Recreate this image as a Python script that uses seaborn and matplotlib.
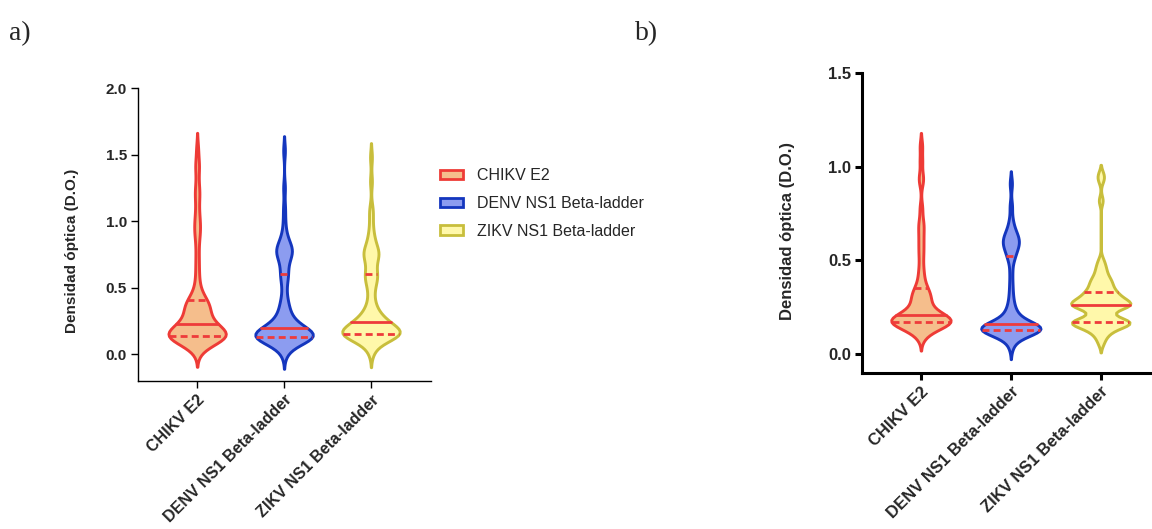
import numpy as np
import pandas as pd
import matplotlib
matplotlib.use('Agg')
import matplotlib.pyplot as plt
import seaborn as sns
from matplotlib.patches import Patch

# categories and colours
groups = ['CHIKV E2', 'DENV NS1 Beta-ladder', 'ZIKV NS1 Beta-ladder']
fill_colors = ['#F5BE8C', '#8C9CF0', '#FFF8AA']
edge_colors = ['#EE3B36', '#1436BE', '#C8BE3C']
quart_color = '#EE3B3B'

# panel a) optical density readings
chikv_a = [0.03, 0.05, 0.07, 0.08, 0.09, 0.10, 0.10, 0.11, 0.11, 0.12, 0.12, 0.12, 0.13, 0.13,
           0.13, 0.13, 0.135, 0.14, 0.14, 0.14,
           0.14, 0.145, 0.15, 0.15, 0.15, 0.155, 0.16, 0.16, 0.165, 0.17, 0.17, 0.18, 0.18, 0.19,
           0.19, 0.20, 0.21, 0.21, 0.22, 0.23,
           0.23, 0.24, 0.25, 0.26, 0.27, 0.28, 0.29, 0.30, 0.31, 0.32, 0.33, 0.34, 0.35, 0.36,
           0.37, 0.38, 0.39, 0.39, 0.40, 0.40,
           0.42, 0.45, 0.48, 0.52, 0.58, 0.65, 0.72, 0.80, 0.88, 0.92, 0.96, 1.00, 1.05, 1.12,
           1.20, 1.22, 1.30, 1.40, 1.43, 1.54]
denv_a = [0.00, 0.03, 0.05, 0.07, 0.08, 0.09, 0.10, 0.10, 0.11, 0.11, 0.11, 0.12, 0.12, 0.12,
          0.12, 0.125, 0.125, 0.13, 0.13, 0.13,
          0.13, 0.135, 0.14, 0.14, 0.145, 0.15, 0.15, 0.155, 0.16, 0.16, 0.165, 0.17, 0.17,
          0.175, 0.18, 0.18, 0.185, 0.19, 0.195, 0.20,
          0.20, 0.21, 0.22, 0.23, 0.24, 0.25, 0.26, 0.27, 0.28, 0.30, 0.32, 0.34, 0.36, 0.38,
          0.41, 0.45, 0.50, 0.55, 0.58, 0.60,
          0.62, 0.66, 0.69, 0.71, 0.73, 0.75, 0.76, 0.77, 0.78, 0.79, 0.80, 0.81, 0.83, 0.85,
          0.88, 0.92, 1.00, 1.10, 1.25, 1.53]
zikv_a = [0.01, 0.04, 0.07, 0.09, 0.10, 0.11, 0.12, 0.12, 0.13, 0.13, 0.14, 0.14, 0.14, 0.145,
          0.15, 0.15, 0.15, 0.15, 0.155, 0.155,
          0.155, 0.16, 0.16, 0.165, 0.17, 0.17, 0.175, 0.18, 0.18, 0.19, 0.19, 0.20, 0.20, 0.21,
          0.21, 0.22, 0.22, 0.23, 0.235, 0.24,
          0.24, 0.25, 0.26, 0.27, 0.28, 0.29, 0.30, 0.31, 0.33, 0.35, 0.37, 0.40, 0.44, 0.48,
          0.51, 0.54, 0.56, 0.58, 0.59, 0.60,
          0.62, 0.65, 0.68, 0.70, 0.72, 0.74, 0.75, 0.76, 0.77, 0.78, 0.80, 0.82, 0.85, 0.88,
          0.92, 0.98, 1.05, 1.10, 1.30, 1.48]

# panel b) optical density readings
chikv_b = [0.09, 0.11, 0.12, 0.13, 0.14, 0.145, 0.15, 0.155, 0.16, 0.16, 0.165, 0.165, 0.17, 0.17, 0.17,
           0.17, 0.172, 0.175, 0.178, 0.18, 0.182, 0.185, 0.19, 0.19, 0.195, 0.20, 0.20, 0.205, 0.21, 0.21,
           0.21, 0.22, 0.23, 0.24, 0.25, 0.26, 0.27, 0.28, 0.29, 0.30, 0.31, 0.32, 0.33, 0.34, 0.35,
           0.37, 0.40, 0.43, 0.47, 0.52, 0.56, 0.60, 0.64, 0.68, 0.71, 0.78, 0.92, 0.95, 1.03, 1.11]
denv_b = [0.04, 0.07, 0.09, 0.10, 0.11, 0.11, 0.115, 0.12, 0.12, 0.12, 0.125, 0.125, 0.13, 0.13, 0.13,
          0.13, 0.132, 0.135, 0.138, 0.14, 0.14, 0.142, 0.145, 0.148, 0.15, 0.15, 0.152, 0.155, 0.158, 0.16,
          0.16, 0.17, 0.18, 0.19, 0.20, 0.21, 0.22, 0.24, 0.26, 0.29, 0.33, 0.38, 0.44, 0.50, 0.52,
          0.54, 0.56, 0.57, 0.58, 0.59, 0.60, 0.61, 0.62, 0.63, 0.64, 0.66, 0.68, 0.72, 0.79, 0.91]
zikv_b = [0.06, 0.09, 0.11, 0.12, 0.13, 0.14, 0.15, 0.155, 0.16, 0.16, 0.165, 0.165, 0.17, 0.17, 0.17,
          0.17, 0.175, 0.18, 0.18, 0.185, 0.19, 0.21, 0.23, 0.245, 0.25, 0.255, 0.26, 0.26, 0.26, 0.26,
          0.265, 0.265, 0.27, 0.27, 0.275, 0.28, 0.285, 0.29, 0.295, 0.30, 0.31, 0.315, 0.32, 0.325, 0.33,
          0.34, 0.35, 0.36, 0.37, 0.38, 0.39, 0.40, 0.41, 0.43, 0.45, 0.47, 0.50, 0.82, 0.93, 0.96]

sns.set_style('ticks')
plt.rcParams['font.family'] = ['Liberation Sans', 'DejaVu Sans']
plt.rcParams['font.weight'] = 'bold'


def draw_panel(ax, values, ylim, yticks, xlim, fs, xfs, spine_w, label_xy, bw):
    df = pd.DataFrame({'grupo': np.repeat(groups, [len(v) for v in values]),
                       'do': np.concatenate(values)})
    sns.violinplot(data=df, x='grupo', y='do', hue='grupo', order=groups, hue_order=groups,
                   palette=fill_colors, saturation=1, legend=False, inner='quart',
                   density_norm='width', width=0.66, bw_adjust=bw, cut=2,
                   linewidth=2.1, ax=ax)
    for coll, ec in zip(ax.collections, edge_colors):
        coll.set_edgecolor(ec)
    for i, ln in enumerate(ax.lines):
        ln.set_color(quart_color)
        ln.set_linewidth(2)
        if i % 3 == 1:
            ln.set_linestyle('-')
        else:
            ln.set_linestyle((0, (2.5, 1.5)))
    ax.set_ylim(*ylim)
    ax.set_xlim(*xlim)
    ax.set_yticks(yticks)
    ax.set_yticklabels([f'{t:.1f}' for t in yticks], fontsize=fs, fontweight='bold')
    ax.set_xticks(range(3))
    ax.set_xticklabels(groups, rotation=45, ha='right', rotation_mode='anchor',
                       fontsize=xfs, fontweight='bold')
    ax.set_xlabel('')
    ax.set_ylabel('Densidad óptica (D.O.)', fontsize=fs, fontweight='bold')
    ax.yaxis.set_label_coords(*label_xy)
    for s in ['top', 'right']:
        ax.spines[s].set_visible(False)
    for s in ['left', 'bottom']:
        ax.spines[s].set_linewidth(spine_w)
        ax.spines[s].set_color('black')
    ax.spines['left'].set_bounds(ylim[0], yticks[-1])
    ax.tick_params(width=spine_w, length=5, color='black', pad=3)


fig = plt.figure(figsize=(11.52, 5.29), dpi=100)
ax_a = fig.add_axes([0.1198, 0.2798, 0.2543, 0.5538])
ax_b = fig.add_axes([0.7483, 0.2949, 0.2517, 0.5671])

draw_panel(ax_a, [chikv_a, denv_a, zikv_a], (-0.2, 2.0), [0.0, 0.5, 1.0, 1.5, 2.0],
           (-0.68, 2.69), 11, 11.5, 1.0, (-0.2, 0.444), 0.4)
draw_panel(ax_b, [chikv_b, denv_b, zikv_b], (-0.1, 1.5), [0.0, 0.5, 1.0, 1.5],
           (-0.655, 2.57), 12, 12, 2.2, (-0.231, 0.473), 0.33)

handles = [Patch(facecolor=fc, edgecolor=ec, linewidth=2) for fc, ec in zip(fill_colors, edge_colors)]
fig.legend(handles, groups, loc='upper left', bbox_to_anchor=(0.375, 0.697), frameon=False,
           borderpad=0, handlelength=1.45, handleheight=0.55, handletextpad=0.85,
           labelspacing=0.8, prop={'size': 11.5, 'weight': 'normal'})

fig.text(0.008, 1 - 40 / 529, 'a)', fontsize=20, family='Liberation Serif', fontweight='normal')
fig.text(0.551, 1 - 40 / 529, 'b)', fontsize=20, family='Liberation Serif', fontweight='normal')

fig.savefig('out.png', dpi=100)
